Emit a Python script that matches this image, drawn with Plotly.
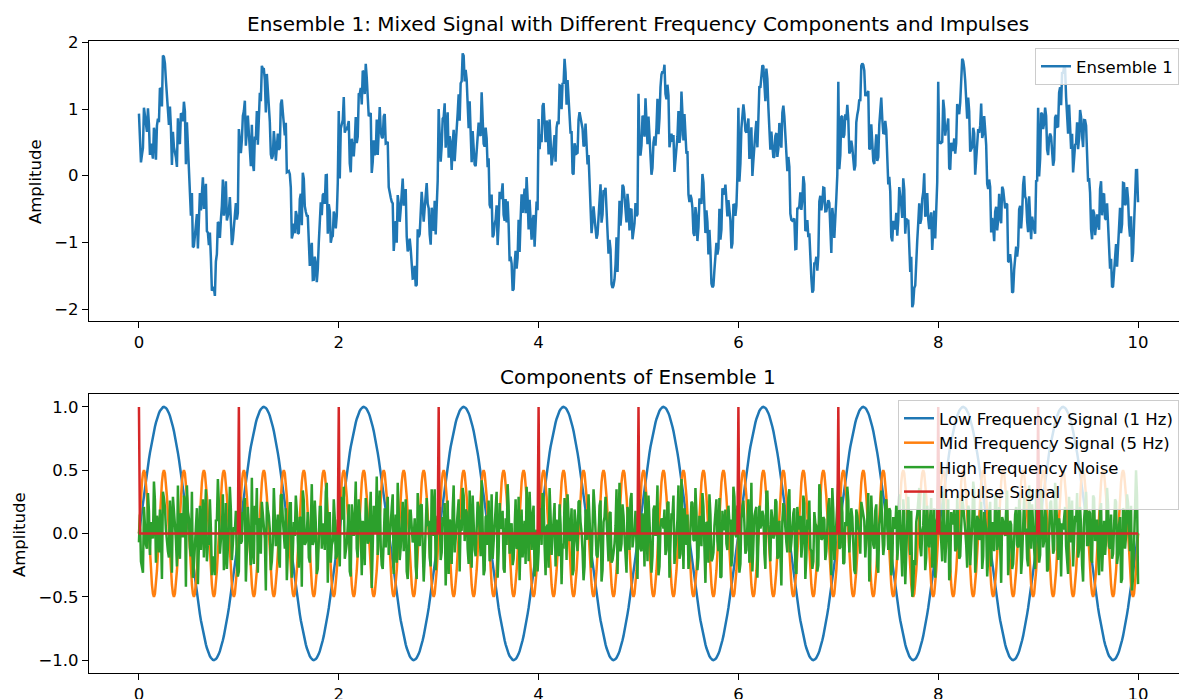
import numpy as np
import plotly.graph_objects as go

# ---------------- data ----------------
T_START, T_END = 0.0, 10.0
N_SAMPLES = 1001   # one sample every 0.01 s

# one period of the 1 Hz low-frequency signal (100 samples / period)
LOW_PERIOD = [
    0.000, 0.063, 0.125, 0.187, 0.249, 0.309, 0.368, 0.426, 0.482, 0.536,
    0.588, 0.637, 0.685, 0.729, 0.771, 0.809, 0.844, 0.876, 0.905, 0.930,
    0.951, 0.969, 0.982, 0.992, 0.998, 1.000, 0.998, 0.992, 0.982, 0.969,
    0.951, 0.930, 0.905, 0.876, 0.844, 0.809, 0.771, 0.729, 0.685, 0.637,
    0.588, 0.536, 0.482, 0.426, 0.368, 0.309, 0.249, 0.187, 0.125, 0.063,
    0.000, -0.063, -0.125, -0.187, -0.249, -0.309, -0.368, -0.426, -0.482, -0.536,
    -0.588, -0.637, -0.685, -0.729, -0.771, -0.809, -0.844, -0.876, -0.905, -0.930,
    -0.951, -0.969, -0.982, -0.992, -0.998, -1.000, -0.998, -0.992, -0.982, -0.969,
    -0.951, -0.930, -0.905, -0.876, -0.844, -0.809, -0.771, -0.729, -0.685, -0.637,
    -0.588, -0.536, -0.482, -0.426, -0.368, -0.309, -0.249, -0.187, -0.125, -0.063,
]
LOW_PERIODS = 10

# one period of the 5 Hz mid-frequency signal (20 samples / period)
MID_PERIOD = [
    0.000, 0.155, 0.294, 0.405, 0.476, 0.500, 0.476, 0.405, 0.294, 0.155,
    0.000, -0.155, -0.294, -0.405, -0.476, -0.500, -0.476, -0.405, -0.294, -0.155,
]
MID_PERIODS = 50

# high-frequency noise, samples at t = 0.00, 0.02, 0.04, ...
NOISE_EVEN = [
    -0.07, -0.22, -0.31, 0.05, -0.12, 0.18, 0.09, -0.04, 0.26, 0.14, -0.15, 0.02, 0.33, 0.21, -0.08, -0.19, 0.11, 0.29, 0.07, -0.26, -0.10, 0.16, -0.03, 0.24, 0.38,
    0.12, -0.18, -0.35, -0.06, 0.20, 0.08, -0.13, 0.27, 0.15, -0.22, -0.09, 0.04, -0.21, -0.33, 0.10, 0.23, -0.05, 0.31, -0.17, -0.28, 0.06, 0.19, -0.11, 0.02, -0.24,
    -0.30, -0.08, 0.17, 0.28, -0.14, 0.05, -0.25, -0.11, 0.22, 0.36, 0.09, -0.16, 0.13, -0.04, 0.25, 0.14, -0.29, -0.07, 0.19, 0.03, -0.20, 0.30, 0.11, -0.12, -0.37,
    0.07, 0.24, -0.15, -0.02, 0.18, -0.27, 0.12, 0.34, -0.09, 0.01, -0.19, 0.15, -0.09, 0.26, -0.32, -0.05, 0.21, 0.08, -0.13, 0.40, 0.16, -0.23, -0.06, 0.12, -0.18,
    -0.03, 0.29, 0.11, -0.20, -0.08, 0.23, -0.34, 0.06, 0.15, -0.12, 0.27, 0.04, 0.10, -0.25, 0.19, -0.06, 0.33, -0.16, 0.02, 0.45, 0.13, -0.10, -0.28, 0.20, 0.07,
    -0.17, 0.09, 0.31, -0.04, -0.23, 0.16, -0.11, 0.25, 0.05, -0.30, -0.14, 0.18, -0.07, 0.12, -0.36, 0.03, 0.22, -0.09, -0.19, 0.28, 0.10, -0.26, 0.14, 0.35, -0.05,
    0.00, -0.21, 0.13, 0.24, -0.10, -0.32, 0.08, 0.19, -0.15, 0.02, 0.27, 0.11, 0.36, -0.06, 0.17, -0.24, 0.05, 0.30, -0.13, -0.02, 0.21, -0.18, 0.09, -0.29, 0.14,
    0.26, -0.07, -0.20, 0.12, 0.33, -0.15, 0.04, 0.18, -0.31, -0.09, 0.22, 0.06, -0.25, 0.14, -0.12, 0.29, -0.04, -0.19, 0.10, 0.37, -0.22, 0.08, 0.15, -0.34, 0.03,
    -0.15, 0.20, 0.32, -0.09, 0.05, -0.27, 0.14, -0.03, 0.24, 0.11, -0.18, 0.07, -0.08, 0.28, -0.21, 0.16, 0.02, -0.33, 0.19, -0.06, 0.25, 0.09, -0.14, -0.26, 0.12,
    0.31, -0.10, 0.04, 0.21, -0.17, -0.05, 0.26, -0.29, 0.13, 0.08, -0.22, 0.17, -0.21, -0.08, 0.35, 0.06, -0.14, 0.23, -0.02, -0.31, 0.15, 0.27, -0.11, 0.01, -0.19,
    0.23, -0.12, 0.16, -0.26, 0.07, 0.30, -0.04, -0.18, 0.22, 0.11, -0.33, 0.05, 0.09, 0.19, -0.13, 0.25, -0.07, 0.14, -0.24, 0.03, 0.38, -0.16, 0.08, 0.20, -0.09,
    -0.28, 0.13, 0.24, -0.06, 0.17, -0.19, 0.02, 0.32, -0.11, 0.09, -0.23, 0.15, -0.20, 0.06, 0.27, -0.14, -0.35, 0.18, 0.04, -0.08, 0.22, 0.11, -0.17, 0.29, -0.03,
    0.02, -0.24, 0.19, 0.08, -0.13, 0.27, -0.05, -0.30, 0.14, 0.21, -0.09, 0.04, 0.18, -0.16, 0.33, 0.07, -0.22, 0.12, -0.01, 0.25, -0.18, -0.27, 0.10, 0.16, -0.07,
    0.28, -0.15, 0.05, 0.20, -0.32, 0.09, 0.14, -0.08, 0.24, -0.19, 0.03, -0.12, -0.28, 0.17, 0.06, -0.25, 0.31, -0.04, 0.11, -0.14, 0.22, -0.06, 0.36, -0.21, 0.08,
    0.41, -0.11, 0.17, -0.23, 0.06, 0.26, -0.02, 0.13, -0.29, 0.19, 0.04, -0.16, 0.21, 0.10, -0.07, 0.32, -0.20, 0.08, -0.12, 0.23, -0.31, 0.15, 0.01, -0.09, 0.27,
    -0.13, 0.18, -0.26, 0.05, 0.22, -0.08, 0.12, -0.34, 0.16, -0.03, 0.29, -0.17, -0.50, -0.21, 0.09, 0.24, -0.11, 0.02, 0.33, -0.19, -0.06, 0.14, -0.27, 0.20, 0.07,
    0.41, 0.10, -0.22, 0.15, -0.05, 0.27, -0.30, 0.08, 0.19, -0.12, 0.03, -0.18, 0.28, 0.14, -0.09, 0.22, -0.25, 0.06, 0.34, -0.15, 0.11, -0.03, -0.28, 0.17, 0.04,
    -0.20, 0.25, 0.09, -0.14, 0.31, -0.07, -0.24, 0.13, 0.02, 0.19, -0.33, 0.10, -0.28, 0.06, 0.21, -0.11, 0.16, -0.19, 0.29, 0.04, -0.26, 0.12, 0.23, -0.08, 0.35,
    0.02, -0.17, 0.20, -0.06, 0.12, -0.28, 0.24, 0.07, -0.13, 0.30, -0.21, 0.05, 0.08, 0.17, -0.10, -0.32, 0.14, 0.26, -0.04, 0.09, -0.19, 0.21, -0.25, 0.11, 0.33,
    -0.09, 0.16, -0.23, 0.28, 0.03, -0.15, 0.19, -0.30, 0.10, -0.05, 0.22, -0.12, -0.20, 0.07, 0.25, -0.17, 0.13, -0.36, 0.18, -0.02, 0.24, -0.14, -0.45, 0.06, 0.50,
    -0.40,
]

# high-frequency noise, samples at t = 0.01, 0.03, 0.05, ...
NOISE_ODD = [
    0.15, -0.28, 0.21, -0.09, 0.32, -0.17, 0.04, 0.41, -0.23, 0.08, 0.19, -0.36, 0.28, 0.03, -0.14, 0.26, -0.31, 0.12, -0.05, 0.38, -0.20, 0.09, 0.30, -0.42, 0.17,
    -0.11, 0.33, -0.25, 0.14, -0.40, 0.22, 0.06, -0.19, 0.35, -0.08, 0.27, -0.33, -0.18, 0.11, 0.43, -0.16, 0.02, -0.29, 0.24, -0.12, 0.37, -0.21, 0.05, 0.18, -0.34,
    0.29, -0.06, 0.16, -0.38, 0.21, -0.13, 0.44, -0.24, 0.07, -0.31, 0.12, 0.25, 0.10, -0.45, 0.19, 0.03, -0.22, 0.36, -0.10, 0.15, -0.27, 0.31, -0.04, 0.20, -0.16,
    0.24, -0.35, 0.09, 0.30, -0.18, 0.13, -0.42, 0.26, -0.07, 0.17, -0.23, 0.39, -0.06, 0.08, -0.28, 0.21, -0.12, 0.04, 0.33, -0.39, 0.16, -0.09, 0.27, -0.20, 0.11,
    -0.26, 0.18, 0.37, -0.14, 0.06, -0.30, 0.23, -0.02, 0.41, -0.19, 0.10, -0.33, 0.05, 0.28, -0.08, 0.14, -0.43, 0.22, 0.01, -0.17, 0.34, -0.25, 0.08, -0.11, 0.29,
    -0.07, 0.20, -0.32, 0.15, 0.40, -0.21, 0.09, -0.14, 0.27, -0.36, 0.18, 0.04, -0.04, -0.26, 0.32, -0.10, 0.23, -0.38, 0.12, 0.06, -0.19, 0.35, -0.02, -0.29, 0.14,
    0.21, -0.15, 0.07, -0.41, 0.26, 0.11, -0.24, 0.38, -0.05, 0.16, -0.30, 0.02, 0.30, 0.19, -0.12, 0.34, -0.27, 0.09, -0.18, 0.25, -0.06, 0.42, -0.33, 0.13, -0.09,
    -0.22, 0.31, -0.08, 0.17, -0.35, 0.24, 0.05, -0.28, 0.12, 0.39, -0.16, 0.08, -0.20, 0.27, -0.11, -0.37, 0.19, 0.03, -0.24, 0.15, 0.33, -0.13, 0.22, -0.04, -0.30,
    0.18, -0.09, 0.28, -0.33, 0.07, 0.36, -0.17, 0.12, -0.26, 0.04, 0.23, -0.40, -0.12, 0.15, 0.31, -0.06, 0.20, -0.29, 0.10, -0.14, 0.26, 0.01, -0.37, 0.19, -0.05,
    0.13, -0.27, 0.35, 0.02, -0.19, 0.22, -0.38, 0.09, 0.29, -0.11, 0.16, -0.23, -0.15, 0.06, -0.32, 0.40, -0.08, 0.14, -0.25, 0.21, -0.13, 0.32, -0.03, 0.18, -0.36,
    0.27, -0.14, 0.08, 0.33, -0.22, 0.05, -0.31, 0.19, -0.02, 0.38, -0.26, 0.12, 0.04, -0.17, 0.24, -0.35, 0.16, 0.30, -0.09, 0.11, -0.20, 0.43, -0.28, 0.07, 0.15,
    -0.18, 0.25, -0.05, 0.36, -0.29, 0.14, -0.10, 0.21, -0.39, 0.08, 0.31, -0.22, -0.15, 0.17, -0.06, 0.28, -0.34, 0.03, 0.19, -0.13, 0.09, -0.26, 0.37, -0.01, 0.22,
    -0.31, 0.12, 0.26, -0.16, 0.04, -0.23, 0.40, -0.08, 0.18, -0.35, 0.22, 0.07, 0.14, -0.28, 0.33, -0.12, 0.19, -0.04, 0.27, -0.20, 0.10, -0.41, 0.24, 0.02, -0.15,
    0.35, -0.07, 0.16, -0.27, 0.21, 0.03, -0.19, 0.30, -0.36, 0.11, 0.26, -0.14, -0.22, 0.08, -0.30, 0.39, -0.05, 0.13, -0.21, 0.06, 0.28, -0.33, 0.17, -0.10, 0.23,
    -0.12, 0.29, -0.24, 0.09, 0.37, -0.15, 0.20, -0.06, -0.32, 0.14, 0.02, 0.25, 0.16, -0.19, 0.11, -0.38, 0.30, -0.09, 0.18, -0.26, 0.07, 0.34, -0.17, 0.23, -0.03,
    0.20, -0.33, 0.13, 0.04, -0.21, 0.31, -0.12, 0.27, -0.40, 0.09, -0.07, 0.18, -0.42, -0.25, 0.15, 0.36, -0.18, 0.06, -0.29, 0.22, -0.11, 0.28, 0.01, -0.35, 0.12,
    0.26, -0.10, 0.33, -0.23, 0.05, -0.37, 0.17, 0.08, -0.14, 0.30, -0.20, 0.12, 0.22, 0.03, -0.27, 0.19, -0.08, 0.41, -0.31, 0.14, -0.05, 0.25, -0.18, 0.09, -0.34,
    0.16, -0.26, 0.04, 0.29, -0.13, 0.21, -0.39, 0.10, -0.02, 0.34, -0.17, 0.07, -0.24, 0.15, -0.09, 0.27, -0.32, 0.18, 0.01, -0.20, 0.38, -0.12, 0.06, -0.28, 0.13,
    -0.23, 0.35, -0.11, 0.19, -0.30, 0.08, 0.26, -0.16, 0.40, -0.04, 0.12, -0.34, 0.03, 0.21, -0.18, 0.29, -0.07, -0.26, 0.14, 0.32, -0.13, 0.05, -0.38, 0.24, -0.09,
    0.18, -0.21, 0.30, -0.06, 0.11, -0.33, 0.24, 0.02, -0.17, 0.36, -0.10, 0.15, -0.16, 0.27, -0.24, 0.07, -0.39, 0.20, -0.12, 0.31, -0.05, 0.22, -0.35, 0.20, 0.30,
]

IMPULSE_TIMES = [0, 1, 2, 3, 4, 5, 6, 7, 8, 9]
IMPULSE_HEIGHTS = [1.0, 1.0, 1.0, 1.0, 1.0, 1.0, 1.0, 1.0, 1.0, 1.0]

X_TICKS = [0, 2, 4, 6, 8, 10]
Y_TICKS_TOP = [-2, -1, 0, 1, 2]
Y_TICKS_BOTTOM = [-1.0, -0.5, 0.0, 0.5, 1.0]

NAMES = ["Low Frequency Signal (1 Hz)", "Mid Frequency Signal (5 Hz)",
         "High Frequency Noise", "Impulse Signal"]
COLORS = ["#1f77b4", "#ff7f0e", "#2ca02c", "#d62728"]

# ---------------- build series ----------------
t = np.linspace(T_START, T_END, N_SAMPLES)
low = np.array((LOW_PERIOD * (LOW_PERIODS + 1))[:N_SAMPLES])
mid = np.array((MID_PERIOD * (MID_PERIODS + 1))[:N_SAMPLES])
noise = np.zeros(N_SAMPLES)
noise[0::2] = NOISE_EVEN
noise[1::2] = NOISE_ODD
impulse = np.zeros(N_SAMPLES)
dt = (T_END - T_START) / (N_SAMPLES - 1)
for ti, h in zip(IMPULSE_TIMES, IMPULSE_HEIGHTS):
    impulse[int(round((ti - T_START) / dt))] = h
ensemble = low + mid + noise + impulse

# ---------------- figure ----------------
W, H = 1179, 699
ML = 89
FONT = "DejaVu Sans"
TICK_FS = 16.5

def px_x(p):
    return (p - ML) / (W - ML)

def px_y(p):
    return 1 - p / H

fig = go.Figure()
fig.add_trace(go.Scatter(x=t, y=ensemble, mode="lines", name="Ensemble 1",
                         line=dict(color=COLORS[0], width=2.5),
                         xaxis="x", yaxis="y", legend="legend"))
for series, name, color in zip([low, mid, noise, impulse], NAMES, COLORS):
    fig.add_trace(go.Scatter(x=t, y=series, mode="lines", name=name,
                             line=dict(color=color, width=2.5),
                             xaxis="x2", yaxis="y2", legend="legend2",
                             legendgroup=name))

axis_common = dict(showline=True, linecolor="black", linewidth=1.3,
                   ticks="outside", ticklen=6, tickwidth=1.3, tickcolor="black",
                   showgrid=False, zeroline=False, automargin=False,
                   tickfont=dict(family=FONT, size=TICK_FS, color="black"))

fig.update_layout(
    width=W, height=H,
    margin=dict(l=ML, r=0, t=0, b=0, pad=0),
    paper_bgcolor="white", plot_bgcolor="white",
    font=dict(family=FONT, color="black"),
    showlegend=True,
    xaxis=dict(domain=[0, 1], anchor="y", range=[-0.5, 10.41],
               tickvals=X_TICKS, mirror=True, **axis_common),
    yaxis=dict(domain=[px_y(321), px_y(41)], anchor="x", range=[-2.18, 2.02],
               tickvals=Y_TICKS_TOP, mirror=False, **axis_common),
    xaxis2=dict(domain=[0, 1], anchor="y2", range=[-0.5, 10.41],
                tickvals=X_TICKS, mirror=True, **axis_common),
    yaxis2=dict(domain=[px_y(672.7), px_y(394.3)], anchor="x2", range=[-1.1, 1.1],
                tickvals=Y_TICKS_BOTTOM, tickformat=".1f", mirror=False, **axis_common),
    legend=dict(x=1.0, xanchor="right", y=px_y(48), yanchor="top",
                bgcolor="rgba(255,255,255,0.8)", bordercolor="#cccccc", borderwidth=1,
                font=dict(family=FONT, size=TICK_FS, color="black")),
    legend2=dict(x=1.0, xanchor="right", y=px_y(400), yanchor="top",
                 bgcolor="rgba(255,255,255,0.8)", bordercolor="#cccccc", borderwidth=1,
                 tracegroupgap=0,
                 font=dict(family=FONT, size=TICK_FS, color="black")),
    annotations=[
        dict(text="Ensemble 1: Mixed Signal with Different Frequency Components and Impulses",
             x=px_x(638), y=px_y(24), xref="paper", yref="paper",
             xanchor="center", yanchor="middle", showarrow=False,
             font=dict(family=FONT, size=20, color="black")),
        dict(text="Components of Ensemble 1",
             x=px_x(638), y=px_y(377), xref="paper", yref="paper",
             xanchor="center", yanchor="middle", showarrow=False,
             font=dict(family=FONT, size=20, color="black")),
        dict(text="Amplitude", textangle=-90,
             x=px_x(35), y=px_y(182), xref="paper", yref="paper",
             xanchor="center", yanchor="middle", showarrow=False,
             font=dict(family=FONT, size=TICK_FS, color="black")),
        dict(text="Amplitude", textangle=-90,
             x=px_x(19), y=px_y(535), xref="paper", yref="paper",
             xanchor="center", yanchor="middle", showarrow=False,
             font=dict(family=FONT, size=TICK_FS, color="black")),
    ],
)

fig.write_html("out.html")
